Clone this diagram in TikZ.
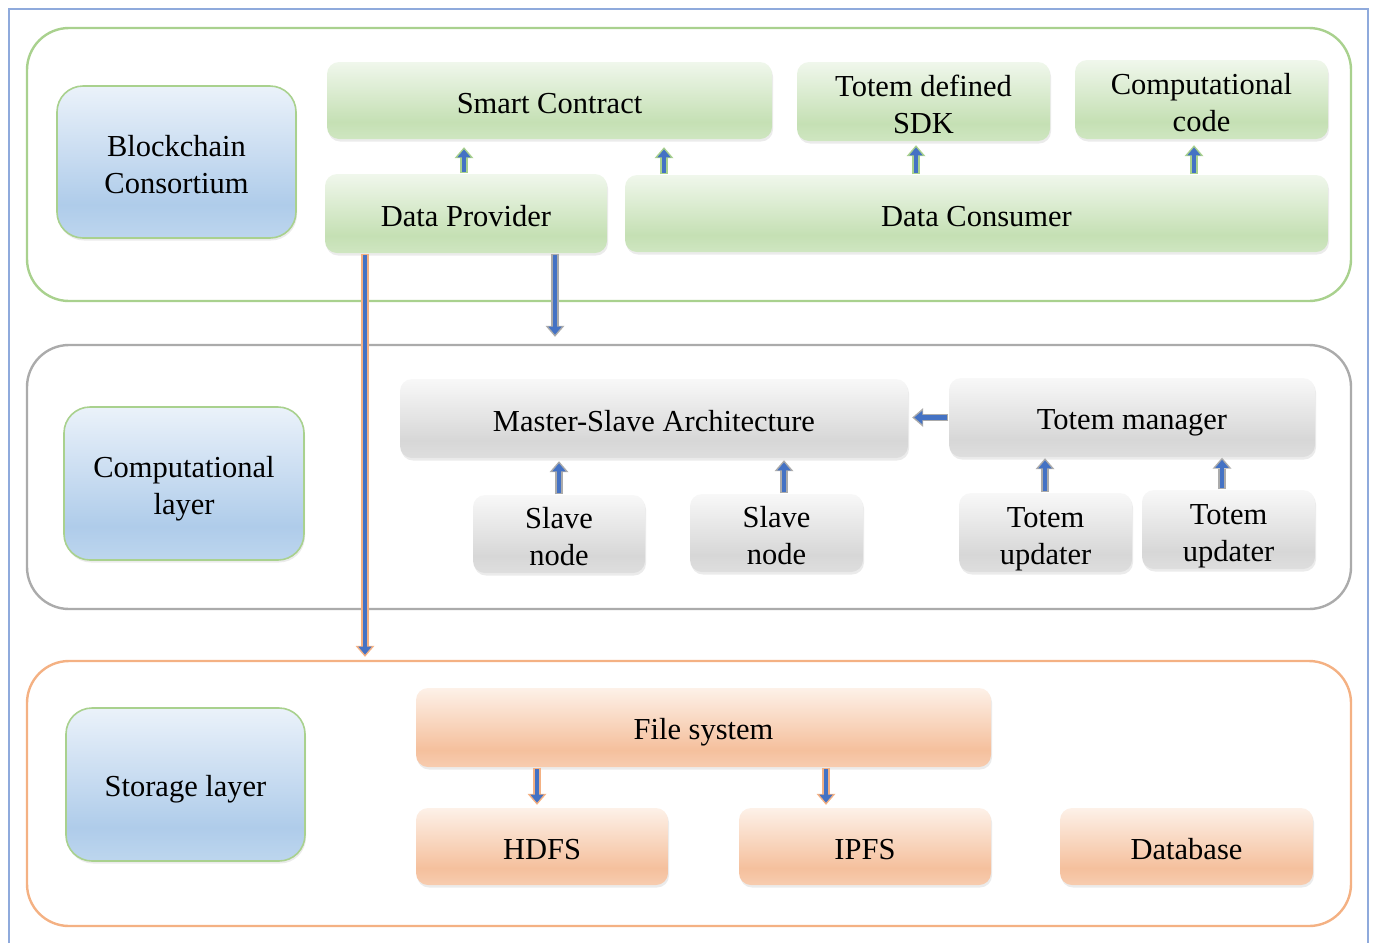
\documentclass[tikz,border=0pt]{standalone}
\usepackage{fontspec}
\setmainfont{Liberation Serif}
\usetikzlibrary{arrows.meta,shadows}

% palette
\definecolor{frameblue}{HTML}{8FAADC}
\definecolor{lgreen}{HTML}{A9D18E}
\definecolor{lgray}{HTML}{ABABAB}
\definecolor{lorange}{HTML}{F4B183}
\definecolor{arrblue}{HTML}{4472C4}
\definecolor{gtop}{HTML}{F0F7EC}
\definecolor{gdark}{HTML}{C5E0B4}
\definecolor{gbot}{HTML}{CFE6C1}
\definecolor{ytop}{HTML}{F8F8F8}
\definecolor{ydark}{HTML}{D7D7D7}
\definecolor{ybot}{HTML}{DEDEDE}
\definecolor{otop}{HTML}{FDF1E8}
\definecolor{odark}{HTML}{F5C09D}
\definecolor{obot}{HTML}{F7CCAF}
\definecolor{btop}{HTML}{EBF2FA}
\definecolor{bdark}{HTML}{AFCCEA}
\definecolor{bbot}{HTML}{BDD6EE}

% vertical box shadings: light at the top, darker towards the bottom
\pgfdeclareverticalshading{gshade}{100bp}{color(0bp)=(gbot); color(25bp)=(gbot); color(36bp)=(gdark); color(75bp)=(gtop); color(100bp)=(gtop)}
\pgfdeclareverticalshading{yshade}{100bp}{color(0bp)=(ybot); color(25bp)=(ybot); color(36bp)=(ydark); color(75bp)=(ytop); color(100bp)=(ytop)}
\pgfdeclareverticalshading{oshade}{100bp}{color(0bp)=(obot); color(25bp)=(obot); color(36bp)=(odark); color(75bp)=(otop); color(100bp)=(otop)}
\pgfdeclareverticalshading{bshade}{100bp}{color(0bp)=(bbot); color(25bp)=(bbot); color(36bp)=(bdark); color(75bp)=(btop); color(100bp)=(btop)}

\tikzset{
  box/.style={rectangle, rounded corners=12pt, inner sep=0pt, align=center,
    font=\fontsize{30.5}{37}\selectfont, text=black,
    % fixed struts so every label sits at the same height in its box
    execute at begin node={\rule{0pt}{31.5pt}},
    execute at end node={\rule[-6.5pt]{0pt}{6.5pt}},
    general shadow={shadow xshift=1pt, shadow yshift=-2.5pt, fill=black, opacity=0.08}},
  twoline/.style={execute at begin node={\rule{0pt}{69.5pt}}},
  gbox/.style={box, shading=gshade},
  ybox/.style={box, shading=yshade},
  obox/.style={box, shading=oshade},
  bbox/.style={box, rounded corners=26pt, shading=bshade, draw=lgreen, line width=1.6pt},
  layer/.style={rectangle, rounded corners=42pt, line width=2.4pt, inner sep=0pt},
}

% block arrow: outline colour, start, end, gap left at the end
\newcommand\blockarrow[4]{%
  \draw[line width=7.5pt, draw=#1, shorten >=#4, shorten <=0.5pt,
    -{Triangle[length=11pt,width=19pt,line width=0pt]}] #2 -- #3;
  \draw[line width=4.2pt, draw=arrblue, shorten >=#4+2.2pt, shorten <=1.6pt,
    -{Triangle[length=8pt,width=13.5pt,line width=0pt]}] #2 -- #3;}

\begin{document}
\begin{tikzpicture}[x=1pt,y=-1pt]
\useasboundingbox (0,0) rectangle (1375,943);

% outer frame, open at the bottom
\draw[frameblue, line width=2pt] (9,943) -- (9,9) -- (1368,9) -- (1368,943);

% layers
\node[layer, draw=lgreen, minimum width=1324pt, minimum height=273pt] (chain) at (689,164.5) {};
\node[layer, draw=lgray, minimum width=1324pt, minimum height=264pt] (comp) at (689,477) {};
\node[layer, draw=lorange, minimum width=1324pt, minimum height=265pt] (store) at (689,793.5) {};

% layer titles
\node[bbox, twoline, minimum width=239pt, minimum height=152pt] (bc) at (176.5,162) {Blockchain\\Consortium};
\node[bbox, twoline, minimum width=240pt, minimum height=153pt] (cl) at (184,483.5) {Computational\\layer};
\node[bbox, minimum width=239pt, minimum height=153pt] (sl) at (185.5,784.5) {Storage layer};

% blockchain layer
\node[gbox, minimum width=445pt, minimum height=77pt] (sc) at (549.5,100.5) {Smart Contract};
\node[gbox, twoline, minimum width=253pt, minimum height=79pt] (sdk) at (923.5,101.5) {Totem defined\\SDK};
\node[gbox, twoline, minimum width=253pt, minimum height=79pt] (cc) at (1201.5,99.5) {Computational\\code};
\node[gbox, minimum width=282pt, minimum height=79pt] (dp) at (466,213.5) {Data Provider};
\node[gbox, minimum width=703pt, minimum height=77pt] (dc) at (976.5,213.5) {Data Consumer};

% computational layer
\node[ybox, minimum width=508pt, minimum height=79pt] (msa) at (654,418.5) {Master-Slave Architecture};
\node[ybox, minimum width=366pt, minimum height=79pt] (tm) at (1132,417.5) {Totem manager};
\node[ybox, twoline, minimum width=172pt, minimum height=78pt] (sn1) at (559,534) {Slave\\node};
\node[ybox, twoline, minimum width=173pt, minimum height=78pt] (sn2) at (776.5,533) {Slave\\node};
\node[ybox, twoline, minimum width=173pt, minimum height=79pt] (tu1) at (1045.5,532.5) {Totem\\updater};
\node[ybox, twoline, minimum width=173pt, minimum height=79pt] (tu2) at (1228.5,529.5) {Totem\\updater};

% storage layer
\node[obox, minimum width=575pt, minimum height=79pt] (fs) at (703.5,727.5) {File system};
\node[obox, minimum width=252pt, minimum height=77pt] (hdfs) at (542,846.5) {HDFS};
\node[obox, minimum width=252pt, minimum height=77pt] (ipfs) at (865,846.5) {IPFS};
\node[obox, minimum width=253pt, minimum height=77pt] (db) at (1186.5,846.5) {Database};

% arrow columns
\coordinate (a1) at (464,0);
\coordinate (a2) at (664,0);
\coordinate (a3) at (916,0);
\coordinate (a4) at (1194,0);
\coordinate (b1) at (559,0);
\coordinate (b2) at (784,0);
\coordinate (b3) at (1045,0);
\coordinate (b4) at (1222,0);
\coordinate (c1) at (555,0);
\coordinate (c2) at (365,0);
\coordinate (d1) at (537,0);
\coordinate (d2) at (826,0);

% blockchain arrows
\blockarrow{lgreen}{(dp.north -| a1)}{(sc.south -| a1)}{8pt}
\blockarrow{lgreen}{(dc.north -| a2)}{(sc.south -| a2)}{8pt}
\blockarrow{lgreen}{(dc.north -| a3)}{(sdk.south -| a3)}{4pt}
\blockarrow{lgreen}{(dc.north -| a4)}{(cc.south -| a4)}{6pt}

% computational arrows
\blockarrow{lgray}{(tm.west)}{(tm.west -| msa.east)}{4pt}
\blockarrow{lgray}{(sn1.north -| b1)}{(msa.south -| b1)}{3pt}
\blockarrow{lgray}{(sn2.north -| b2)}{(msa.south -| b2)}{2pt}
\blockarrow{lgray}{(tu1.north -| b3)}{(tm.south -| b3)}{1pt}
\blockarrow{lgray}{(tu2.north -| b4)}{(tm.south -| b4)}{0.5pt}

% between layers
\blockarrow{lgray}{(dp.south -| c1)}{(comp.north -| c1)}{7pt}
\blockarrow{lorange}{(dp.south -| c2)}{(store.north -| c2)}{3pt}

% storage arrows
\blockarrow{lorange}{(fs.south -| d1)}{(hdfs.north -| d1)}{3pt}
\blockarrow{lorange}{(fs.south -| d2)}{(ipfs.north -| d2)}{3pt}
\end{tikzpicture}
\end{document}
